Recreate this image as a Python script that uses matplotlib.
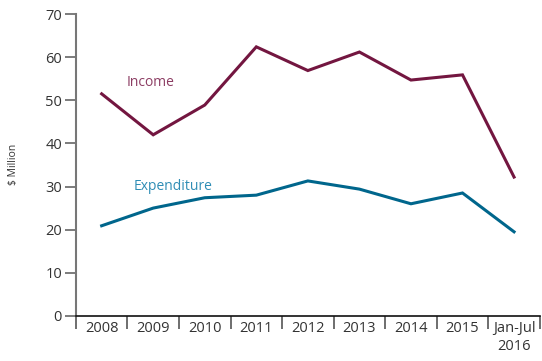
import numpy as np
import matplotlib
matplotlib.use("Agg")
import matplotlib.pyplot as plt
from matplotlib.ticker import FixedLocator, NullFormatter

years = ["2008", "2009", "2010", "2011", "2012", "2013", "2014", "2015", "Jan-Jul\n2016"]
income = [51.5, 42.0, 48.9, 62.4, 56.9, 61.2, 54.7, 55.9, 32.2]
expenditure = [20.9, 25.0, 27.4, 28.0, 31.3, 29.4, 26.0, 28.5, 19.5]

plt.rcParams['font.family'] = ['Open Sans', 'DejaVu Sans']
text_col = '#333333'

fig = plt.figure(figsize=(5.42, 3.61), dpi=100)
ax = fig.add_axes([0.140, 0.125, 0.856, 0.836])

x = np.arange(len(years))
ax.plot(x, income, color='#731640', lw=2.2, solid_joinstyle='miter')
ax.plot(x, expenditure, color='#00668c', lw=2.2, solid_joinstyle='miter')

ax.text(0.48, 53.3, "Income", color='#8c3d63', fontsize=10)
ax.text(0.62, 29.3, "Expenditure", color='#2f8db5', fontsize=10)

ax.set_xlim(-0.5, len(years) - 0.5)
ax.set_ylim(0, 70)
ax.set_yticks(np.arange(0, 71, 10))

# category labels sit between the boundary ticks
ax.xaxis.set_major_locator(FixedLocator(np.arange(-0.5, len(years), 1.0)))
ax.xaxis.set_major_formatter(NullFormatter())
ax.xaxis.set_minor_locator(FixedLocator(x))
ax.set_xticklabels(years, minor=True)
ax.tick_params(axis='x', which='major', length=9, width=1.2, color='#555555', direction='out')
ax.tick_params(axis='x', which='minor', length=0, pad=4, labelsize=10.5, labelcolor=text_col)
ax.tick_params(axis='y', length=8, width=1.2, color='#666666', labelsize=10.5, labelcolor=text_col, pad=2)

for s in ['top', 'right']:
    ax.spines[s].set_visible(False)
ax.spines['left'].set_color('#777777')
ax.spines['left'].set_linewidth(1.5)
ax.spines['bottom'].set_color('#111111')
ax.spines['bottom'].set_linewidth(1.2)

fig.text(0.024, 0.545, "$ Million", rotation=90, ha='center', va='center', fontsize=7.5, color=text_col)

fig.savefig("out.png", dpi=100)
